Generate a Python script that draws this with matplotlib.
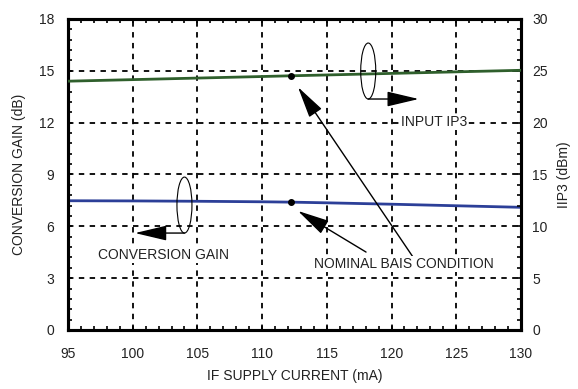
import matplotlib.pyplot as plt
from matplotlib.patches import Ellipse
from matplotlib.ticker import MultipleLocator

plt.rcParams['font.family'] = ['Liberation Sans', 'DejaVu Sans']

# IF supply current (mA)
current = [95, 100, 105, 110, 112.2, 115, 120, 125, 130]
# conversion gain (dB), left axis
gain = [7.48, 7.47, 7.45, 7.42, 7.40, 7.36, 7.28, 7.19, 7.10]
# input IP3 (dBm), right axis
iip3 = [24.0, 24.15, 24.3, 24.45, 24.52, 24.6, 24.75, 24.9, 25.05]

nominal_current = 112.2
nominal_gain = 7.40
nominal_iip3 = 24.52

x_ticks = [95, 100, 105, 110, 115, 120, 125, 130]
gain_ticks = [0, 3, 6, 9, 12, 15, 18]
iip3_ticks = [0, 5, 10, 15, 20, 25, 30]

fig = plt.figure(figsize=(5.78, 3.89), dpi=100)
ax = fig.add_axes([0.1176, 0.1517, 0.7837, 0.7995])
ax2 = ax.twinx()

ax.plot(current, gain, color='#2c3f98', lw=2.0, zorder=3)
ax2.plot(current, iip3, color='#2f5f2c', lw=2.0, zorder=3)
ax.plot([nominal_current], [nominal_gain], 'o', color='black', ms=4, zorder=4)
ax2.plot([nominal_current], [nominal_iip3], 'o', color='black', ms=4, zorder=4)

ax.set_xlim(95, 130)
ax.set_ylim(0, 18)
ax2.set_ylim(0, 30)
ax.set_xticks(x_ticks)
ax.set_yticks(gain_ticks)
ax2.set_yticks(iip3_ticks)
ax.xaxis.set_minor_locator(MultipleLocator(1))
ax.yaxis.set_minor_locator(MultipleLocator(0.6))
ax2.yaxis.set_minor_locator(MultipleLocator(1))

ax.grid(True, which='major', color='black', ls=(0, (3, 3)), lw=1.3)

for a in (ax, ax2):
    for s in a.spines.values():
        s.set_linewidth(2.2)
    a.tick_params(which='both', direction='in', colors='black', labelcolor='#222222', labelsize=10)
    a.tick_params(which='major', length=3, width=1.2)
    a.tick_params(which='minor', length=3, width=1.2)

ax.tick_params(axis='x', which='both', top=True, pad=12)
ax.tick_params(axis='y', which='both', right=False, pad=10)
ax2.tick_params(axis='y', which='both', pad=8)

ax.set_xlabel('IF SUPPLY CURRENT (mA)', fontsize=10, color='#222222', labelpad=6)
ax.set_ylabel('CONVERSION GAIN (dB)', fontsize=10, color='#222222', labelpad=9)
ax2.set_ylabel('IIP3 (dBm)', fontsize=10, color='#222222', labelpad=7)

box = dict(facecolor='white', edgecolor='none', pad=1)
head = dict(arrowstyle='-|>,head_length=1.1,head_width=0.26', mutation_scale=18,
            color='black', lw=1.0, shrinkA=0, shrinkB=0)

# input IP3 marker
ax2.add_patch(Ellipse((118.2, 24.98), 1.16, 5.4, fill=False, ec='black', lw=0.8, zorder=5))
ax2.annotate('', xy=(122.1, 22.28), xytext=(118.2, 22.28), arrowprops=head)
ax2.text(120.7, 20.06, 'INPUT IP3', fontsize=10, color='#222222',
         ha='left', va='center', bbox=box, zorder=6)

# conversion gain marker
ax.add_patch(Ellipse((104.0, 7.23), 1.16, 3.24, fill=False, ec='black', lw=0.8, zorder=5))
ax.annotate('', xy=(100.18, 5.61), xytext=(104.0, 5.61), arrowprops=head)
ax.text(102.4, 4.34, 'CONVERSION GAIN', fontsize=10, color='#222222',
        ha='center', va='center', bbox=box, zorder=6)

# nominal bias condition
ax2.text(120.93, 3.82 * 30 / 18, 'NOMINAL BAIS CONDITION', fontsize=10, color='#222222',
         ha='center', va='center', bbox=box, zorder=6)
ax2.annotate('', xy=(112.77, 6.89), xytext=(118.03, 4.51),
             xycoords=ax.transData, textcoords=ax.transData, arrowprops=head)
ax2.annotate('', xy=(112.77, 14.06), xytext=(121.66, 4.22),
             xycoords=ax.transData, textcoords=ax.transData, arrowprops=head)

fig.savefig('out.png', dpi=100)
